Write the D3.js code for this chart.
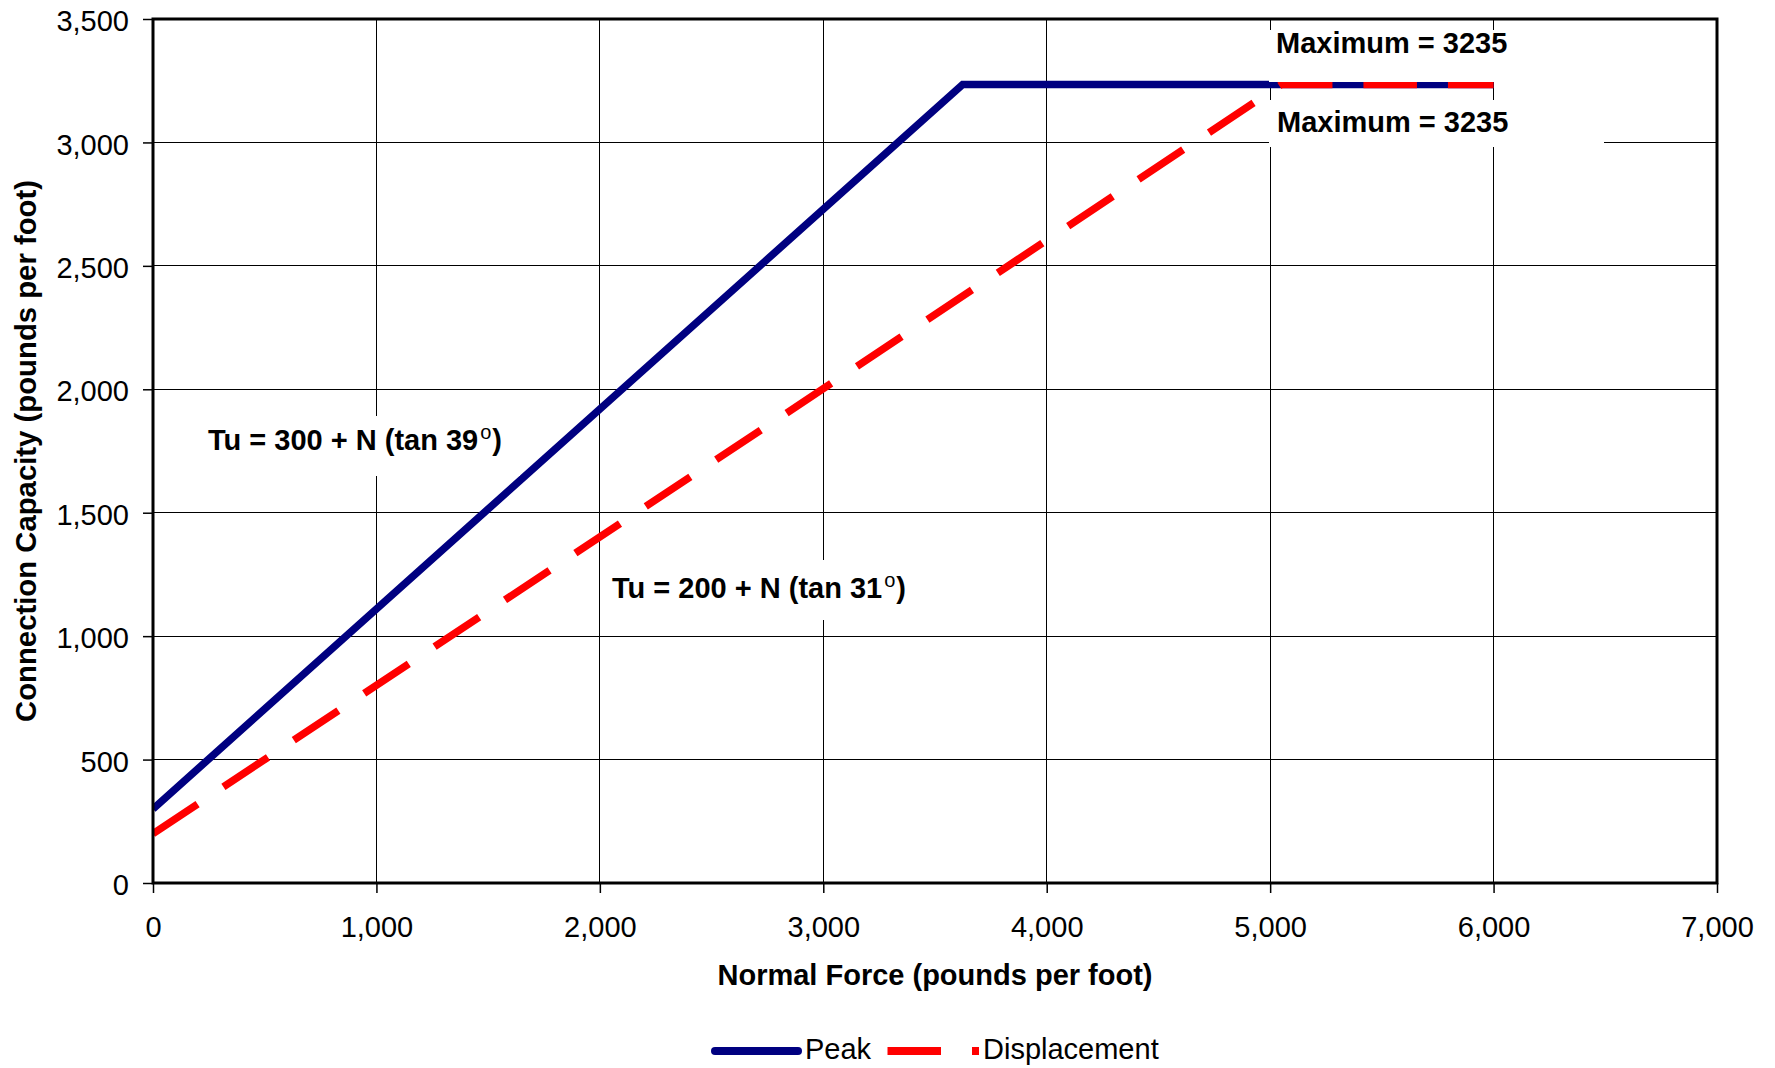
<!DOCTYPE html>
<html>
<head>
<meta charset="utf-8">
<script src="https://cdn.jsdelivr.net/npm/d3@7"></script>
<style>
  html, body { margin: 0; padding: 0; background: #fff; }
  svg { display: block; font-family: "Liberation Sans", Arial, Helvetica, sans-serif; }
</style>
</head>
<body>
<svg id="chart" width="1775" height="1068"></svg>
<script>
// ---- data ----
const xTicks = [0, 1000, 2000, 3000, 4000, 5000, 6000, 7000];
const yTicks = [0, 500, 1000, 1500, 2000, 2500, 3000, 3500];
const seriesNames = ["Peak", "Displacement"];
const peakN = [0, 3624, 6000];
const peakT = [300, 3235, 3235];
const dispN = [0, 5051, 6000];
const dispT = [200, 3235, 3235];
const xTitle = "Normal Force (pounds per foot)";
const yTitle = "Connection Capacity (pounds per foot)";
const maxLabel = "Maximum = 3235";

// ---- layout ----
const L = 153, R = 1717, T = 19, B = 883;
const FS = 29;
const svg = d3.select("#chart");

const x = d3.scaleLinear().domain([0, 7000]).range([L, R]);
const y = d3.scaleLinear().domain([0, 3500]).range([B, T]);

svg.append("defs").append("clipPath").attr("id", "plotclip")
  .append("rect").attr("x", L).attr("y", T).attr("width", R - L).attr("height", B - T);

// gridlines
const grid = svg.append("g").attr("shape-rendering", "crispEdges");
grid.selectAll("line.gx").data(xTicks.slice(1, -1)).join("line")
  .attr("x1", d => x(d)).attr("x2", d => x(d)).attr("y1", T).attr("y2", B)
  .attr("stroke", "#000").attr("stroke-width", 1);
grid.selectAll("line.gy").data(yTicks.slice(1, -1)).join("line")
  .attr("x1", L).attr("x2", R).attr("y1", d => y(d)).attr("y2", d => y(d))
  .attr("stroke", "#000").attr("stroke-width", 1);

// series lines
const line = d3.line().x(d => x(d[0])).y(d => y(d[1]));
const plot = svg.append("g").attr("clip-path", "url(#plotclip)");
plot.append("path").datum(peakN.map((n, i) => [n, peakT[i]]))
  .attr("d", line).attr("fill", "none").attr("stroke", "#000080")
  .attr("stroke-width", 7.5).attr("stroke-linejoin", "miter");
plot.append("path").datum(dispN.map((n, i) => [n, dispT[i]]))
  .attr("d", line).attr("fill", "none").attr("stroke", "#FF0000")
  .attr("stroke-width", 7.5).attr("stroke-dasharray", "53.5,31").attr("stroke-linecap", "butt");

// annotation boxes (white fill, cover grid & lines)
const ann = svg.append("g").attr("font-size", FS).attr("font-weight", "bold").attr("fill", "#000");
function box(x0, y0, x1, y1) {
  ann.append("rect").attr("x", x0).attr("y", y0).attr("width", x1 - x0).attr("height", y1 - y0).attr("fill", "#fff");
}
box(195, 416, 520, 476);
box(603, 560, 925, 620);
box(1269, 30, 1604, 82);
box(1269, 100, 1604, 147);

function eqLabel(xp, yp, pre, sup) {
  const t = ann.append("text").attr("x", xp).attr("y", yp);
  t.append("tspan").text(pre);
  t.append("tspan").attr("dy", -11).attr("font-size", 20).attr("font-weight", "normal").attr("dx", 2).text(sup);
  t.append("tspan").attr("dy", 11).attr("dx", 1).text(")");
}
eqLabel(208, 450, "Tu = 300 + N (tan 39", "o");
eqLabel(612, 598, "Tu = 200 + N (tan 31", "o");
ann.append("text").attr("x", 1276).attr("y", 53).text(maxLabel);
ann.append("text").attr("x", 1277).attr("y", 132).text(maxLabel);

// axes
const xAxis = d3.axisBottom(x).tickValues(xTicks).tickSize(10).tickPadding(23.5).tickFormat(d3.format(","));
const yAxis = d3.axisLeft(y).tickValues(yTicks).tickSize(10).tickPadding(14).tickFormat(d3.format(","));
const gx = svg.append("g").attr("transform", `translate(0,${B})`).call(xAxis);
const gy = svg.append("g").attr("transform", `translate(${L},0)`).call(yAxis);
[gx, gy].forEach(g => {
  g.select(".domain").remove();
  g.selectAll(".tick line").attr("stroke", "#000").attr("stroke-width", 1.5);
  g.selectAll(".tick text").attr("font-size", FS).attr("fill", "#000")
    .attr("font-family", "'Liberation Sans', Arial, sans-serif");
});
gy.selectAll(".tick text").attr("dy", "0.4em");

// plot border
svg.append("rect").attr("x", L).attr("y", T).attr("width", R - L).attr("height", B - T)
  .attr("fill", "none").attr("stroke", "#000").attr("stroke-width", 3);

// axis titles
svg.append("text").attr("x", (L + R) / 2).attr("y", 985).attr("text-anchor", "middle")
  .attr("font-size", FS).attr("font-weight", "bold").text(xTitle);
svg.append("text").attr("transform", `translate(36,${(T + B) / 2}) rotate(-90)`).attr("text-anchor", "middle")
  .attr("font-size", 29.3).attr("font-weight", "bold").text(yTitle);

// legend
const lg = svg.append("g").attr("font-size", FS);
lg.append("line").attr("x1", 715).attr("x2", 798).attr("y1", 1051).attr("y2", 1051)
  .attr("stroke", "#000080").attr("stroke-width", 8).attr("stroke-linecap", "round");
lg.append("text").attr("x", 805).attr("y", 1059).text(seriesNames[0]);
lg.append("line").attr("x1", 887.5).attr("x2", 979).attr("y1", 1051).attr("y2", 1051)
  .attr("stroke", "#FF0000").attr("stroke-width", 8).attr("stroke-dasharray", "53.5,31");
lg.append("text").attr("x", 983).attr("y", 1059).text(seriesNames[1]);
</script>
</body>
</html>
